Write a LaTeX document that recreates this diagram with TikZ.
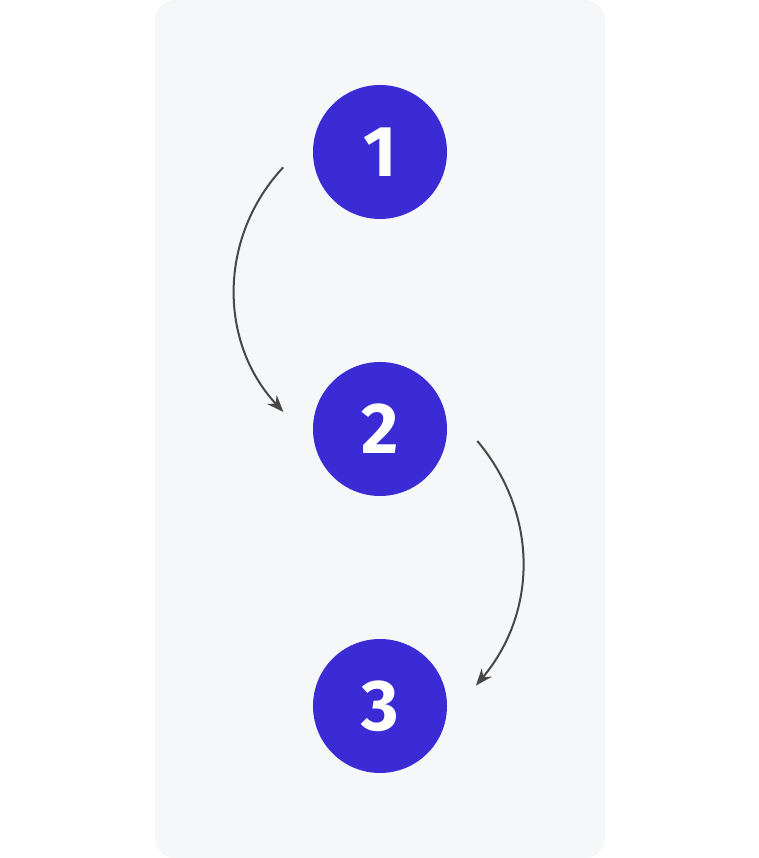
\documentclass[tikz,border=0pt]{standalone}
\usepackage{fontspec}
\setmainfont{Fira Sans}
\usetikzlibrary{arrows.meta, positioning, calc}
\definecolor{panelbg}{HTML}{F6F7F9}
\definecolor{stepblue}{HTML}{3A2BD4}
\definecolor{flowgray}{HTML}{474747}

\begin{document}
\begin{tikzpicture}[
  x=1pt, y=1pt,
  stepdot/.style={circle, fill=stepblue, minimum size=134pt, inner sep=0pt, outer sep=31pt,
                  text=white, font=\fontsize{72}{72}\selectfont\bfseries},
  flow/.style={-{Stealth[length=17pt, width=13pt]}, line width=2pt, draw=flowgray},
]
  \useasboundingbox (0,0) rectangle (759,858);
  \fill[panelbg, rounded corners=20pt] (155,0) rectangle (605,858);

  \node[stepdot] (one) at (380,706) {1};
  \node[stepdot] (two) at (380,429) {2};
  \node[stepdot] (three) at (380,152) {3};

  \draw[flow] (one.189) to[out=227, in=133] (two.170);
  \draw[flow] (two.353) to[out=-50, in=50] (three.12);

\end{tikzpicture}
\end{document}
